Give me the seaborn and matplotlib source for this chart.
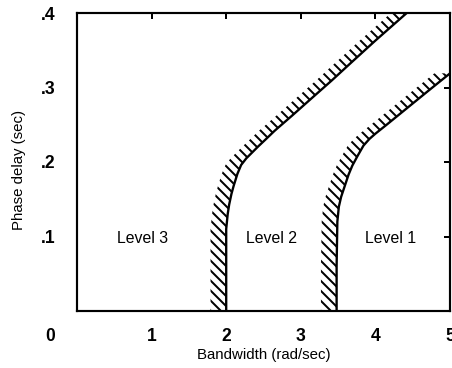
import matplotlib
matplotlib.use("Agg")
import matplotlib.pyplot as plt
import seaborn as sns
import numpy as np
import pandas as pd

# ---- data ----
boundary_23_x = [2.0, 2.0, 2.0, 2.02, 2.04, 2.07, 2.10, 2.15, 2.20, 2.27, 2.34, 2.43, 2.52, 2.65, 2.88, 3.15, 3.41, 3.66, 4.0, 4.42]
boundary_23_y = [0.0, 0.06, 0.11, 0.13, 0.143, 0.157, 0.168, 0.184, 0.196, 0.205, 0.212, 0.221, 0.2295, 0.242, 0.262, 0.286, 0.309, 0.332, 0.363, 0.40]
boundary_12_x = [3.48, 3.48, 3.49, 3.51, 3.54, 3.59, 3.64, 3.69, 3.76, 3.84, 3.92, 4.0, 4.15, 4.42, 4.69, 5.0]
boundary_12_y = [0.0, 0.06, 0.12, 0.14, 0.153, 0.168, 0.183, 0.195, 0.208, 0.222, 0.231, 0.238, 0.250, 0.272, 0.294, 0.319]

level_labels = ["Level 3", "Level 2", "Level 1"]
level_x = [0.885, 2.61, 4.20]
level_y = [0.097, 0.097, 0.097]

x_ticks = [1, 2, 3, 4, 5]
x_tick_labels = ["1", "2", "3", "4", "5"]
y_ticks = [0.1, 0.2, 0.3, 0.4]
y_tick_labels = [".1", ".2", ".3", ".4"]
origin_label = "0"

x_label = "Bandwidth (rad/sec)"
y_label = "Phase delay (sec)"

# ---- style ----
DPI = 120
sns.set_theme(style="white")
plt.rcParams["font.family"] = ["Liberation Sans", "DejaVu Sans"]
plt.rcParams["hatch.linewidth"] = 1.2
plt.rcParams["hatch.color"] = "black"

fig = plt.figure(figsize=(452 / DPI, 368 / DPI), dpi=DPI)
ax = fig.add_axes([77 / 452, 57 / 368, 373 / 452, 298 / 368])

band_width = 0.21  # hatch band thickness (data units along x)

for bx, by in [(boundary_23_x, boundary_23_y), (boundary_12_x, boundary_12_y)]:
    df = pd.DataFrame({"x": bx, "y": by})
    sns.lineplot(data=df, x="x", y="y", sort=False, estimator=None,
                 color="black", linewidth=1.4, ax=ax)
    xs = np.asarray(bx)
    ax.fill_betweenx(by, xs - band_width, xs, facecolor="none",
                     edgecolor="black", linewidth=0, hatch="\\\\\\\\")

for lab, lx, ly in zip(level_labels, level_x, level_y):
    ax.text(lx, ly, lab, ha="center", va="center", fontsize=9.5, color="black")

ax.set_xlim(0, 5)
ax.set_ylim(0, 0.4)
ax.set_xticks(x_ticks)
ax.set_xticklabels(x_tick_labels)
ax.set_yticks(y_ticks)
ax.set_yticklabels(y_tick_labels)

ax.tick_params(axis="both", direction="in", length=3.5, width=1.2,
               top=True, right=True, labelsize=10.5, colors="black")
ax.tick_params(axis="x", pad=10)
ax.tick_params(axis="y", pad=13)
for lbl in ax.get_xticklabels() + ax.get_yticklabels():
    lbl.set_fontweight("bold")

for sp in ax.spines.values():
    sp.set_visible(True)
    sp.set_color("black")
    sp.set_linewidth(1.3)

ax.set_xlabel(x_label, fontsize=9, color="black")
ax.set_ylabel(y_label, fontsize=9, color="black")
ax.xaxis.set_label_coords(0.5, -0.125)
ax.yaxis.set_label_coords(-0.137, 0.473)

ax.annotate(origin_label, xy=(0, 0), xycoords="data", xytext=(-16, -15.5),
            textcoords="offset points", ha="center", va="center",
            fontsize=10.5, fontweight="bold", color="black", annotation_clip=False)

fig.savefig("out.png", dpi=DPI)
